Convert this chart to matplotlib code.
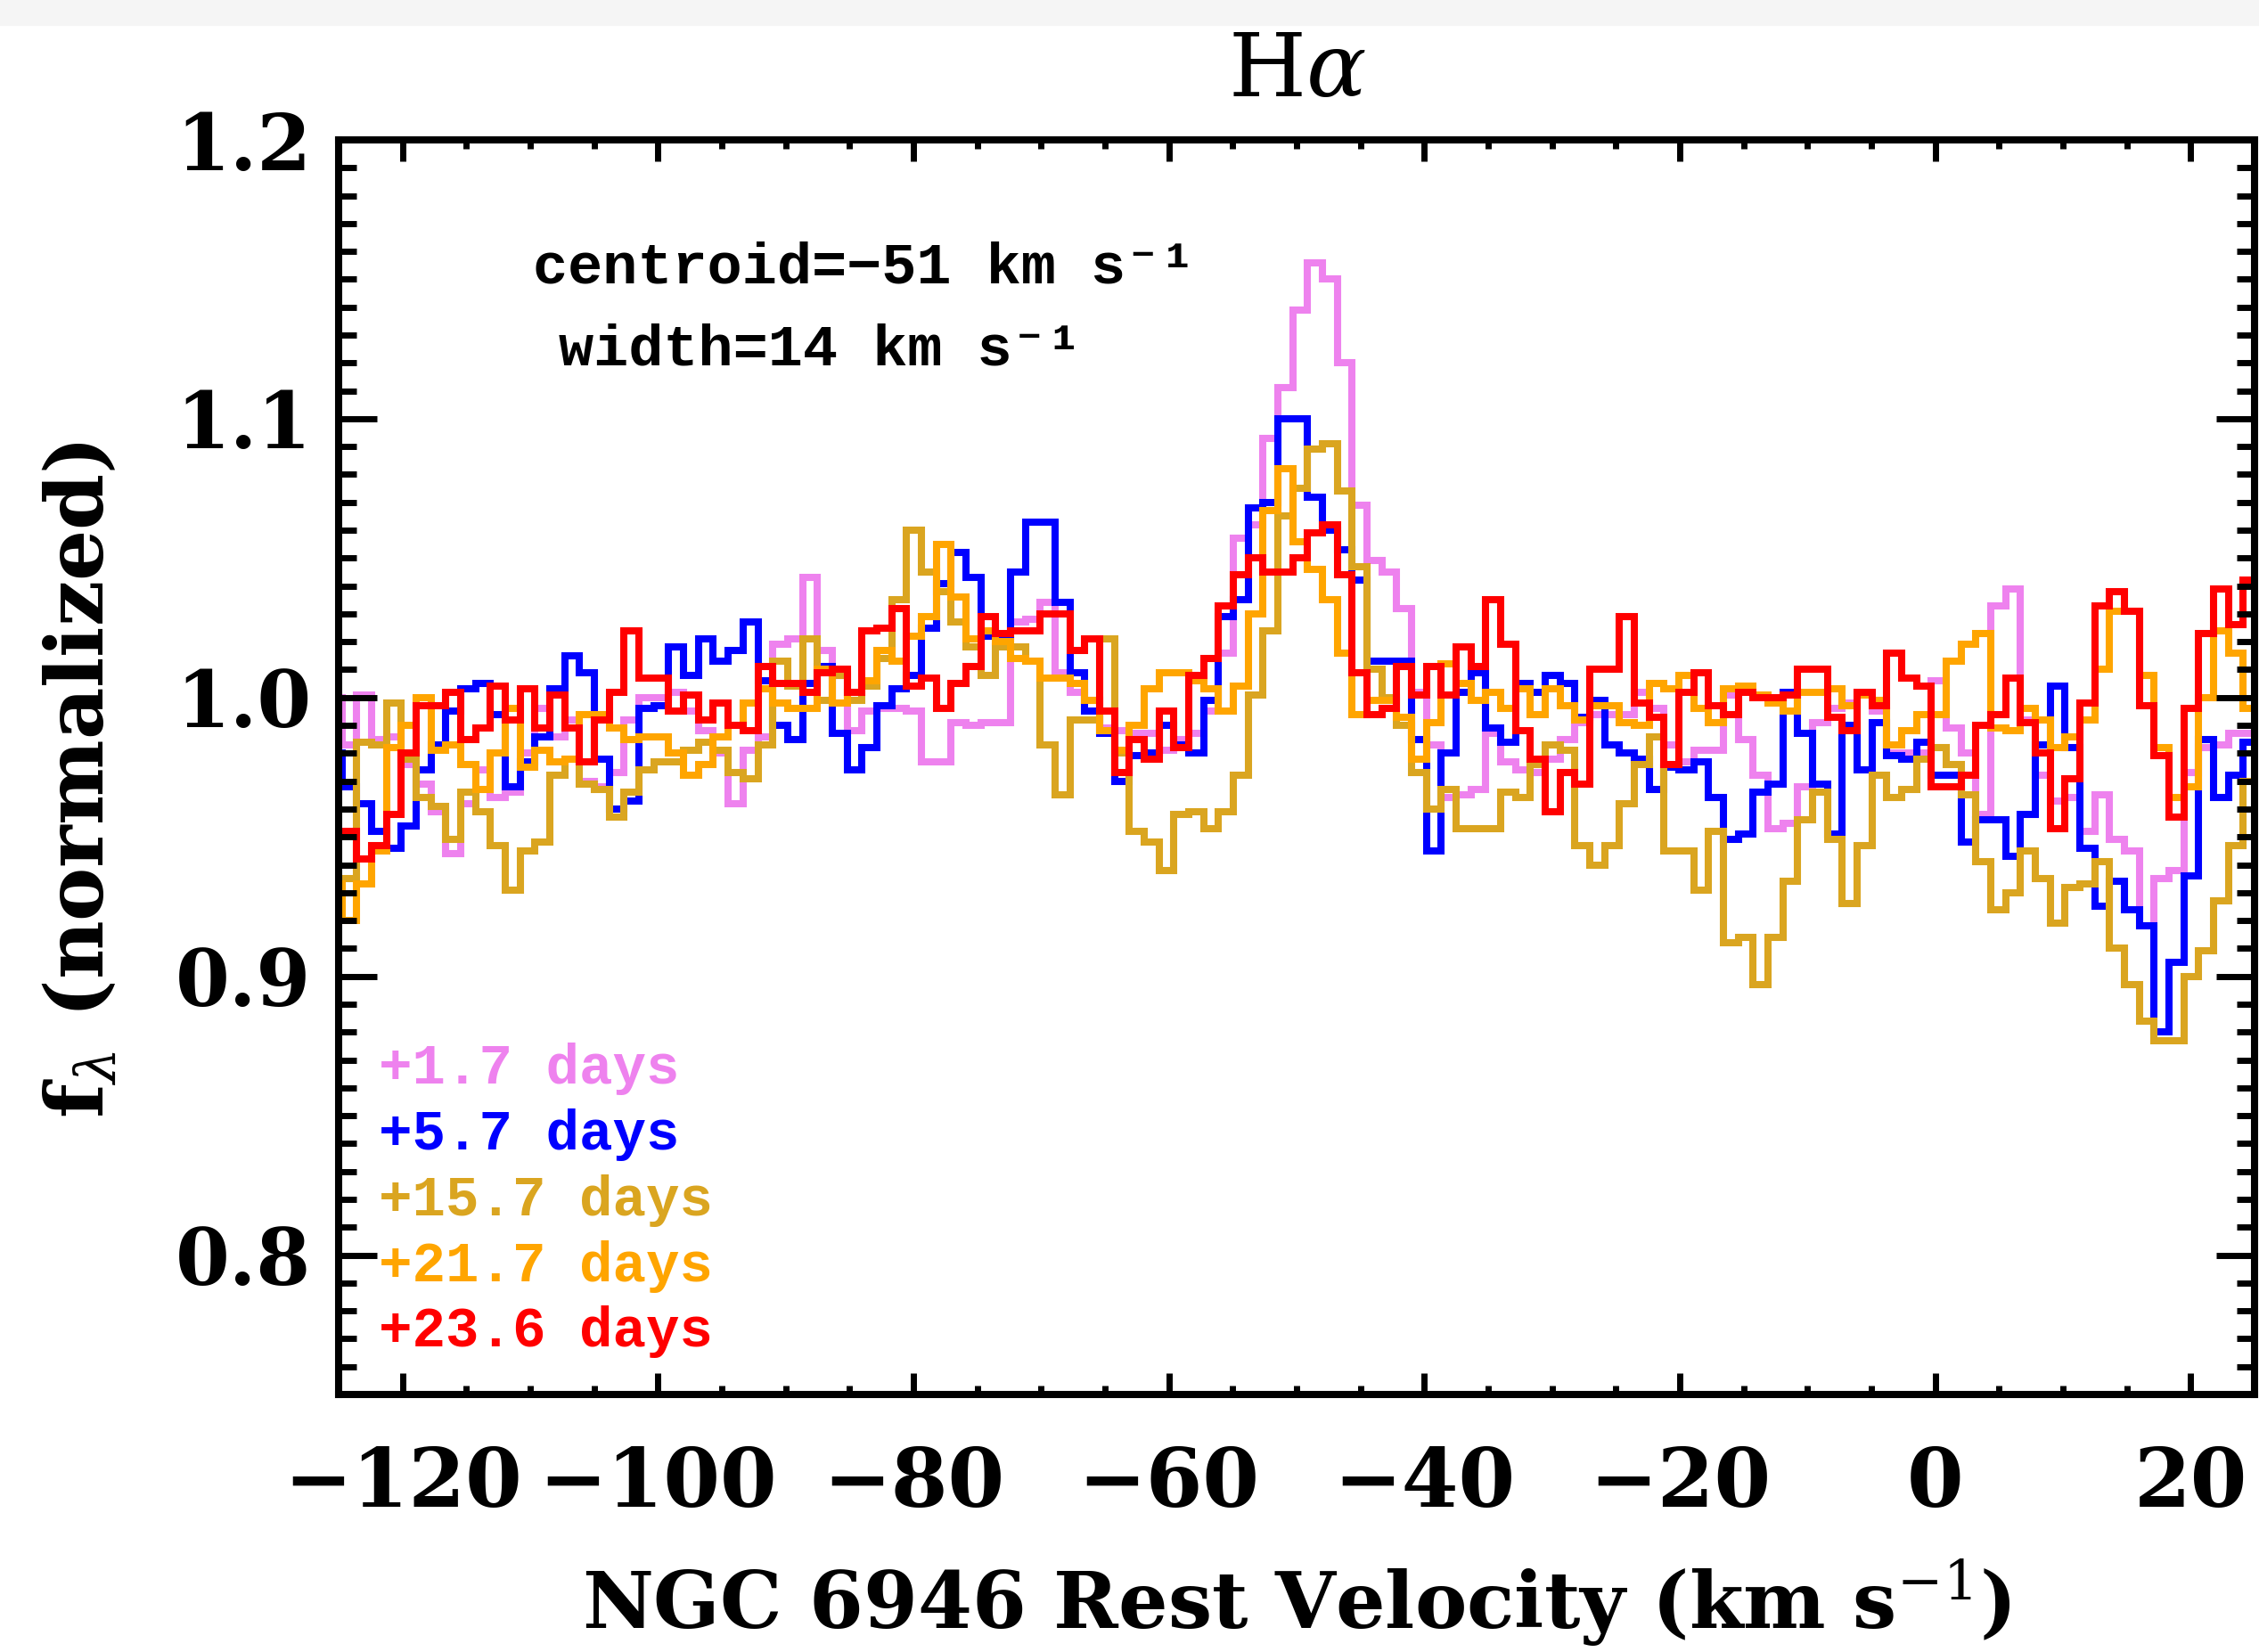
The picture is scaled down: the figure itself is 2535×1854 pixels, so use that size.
import numpy as np
import matplotlib
matplotlib.use("Agg")
import matplotlib.pyplot as plt
from matplotlib.ticker import MultipleLocator, FormatStrFormatter
from matplotlib.patches import Rectangle

# velocity grid of the spectra (km/s): left edge of the first pixel and pixel width
v_start = -125.9
v_step = 1.163

# normalized H-alpha flux per velocity pixel, one list per epoch
flux_1p7 = [
    1.000, 0.983, 1.001, 0.985, 0.986, 0.976, 0.969, 0.959, 0.944, 0.962, 0.974, 0.964, 0.966, 0.980, 0.996, 0.986, 0.992, 0.970, 0.968, 0.973, 0.992, 1.000,
    1.000, 1.002, 0.995, 0.988, 0.980, 0.962, 0.981, 0.986, 1.019, 1.021, 1.043, 1.017, 1.008, 0.988, 0.995, 0.996, 0.996, 0.995, 0.977, 0.977, 0.991, 0.990,
    0.991, 0.991, 1.027, 1.028, 1.034, 1.009, 1.002, 0.999, 0.989, 0.988, 0.987, 0.987, 0.981, 0.985, 0.987, 0.995, 1.016, 1.057, 1.062, 1.093, 1.111,
    1.139, 1.156, 1.150, 1.120, 1.069, 1.049, 1.045, 1.032, 1.002, 0.983, 0.964, 0.965, 0.967, 0.987, 0.977, 0.974, 0.973, 0.978, 0.985, 0.991, 0.994, 0.994,
    0.994, 1.002, 0.996, 0.983, 0.977, 0.981, 0.981, 1.001, 0.985, 0.972, 0.953, 0.955, 0.968, 0.991, 0.996, 0.998, 1.002, 0.995, 0.980, 0.980, 0.980,
    1.006, 0.989, 0.980, 0.958, 1.033, 1.039, 0.992, 0.972, 0.963, 0.964, 0.952, 0.965, 0.949, 0.945, 0.918, 0.935, 0.938, 0.973, 0.982, 0.983, 0.987, 0.987,
]
flux_5p7 = [
    0.980, 0.968, 0.962, 0.952, 0.946, 0.954, 0.974, 0.983, 0.995, 1.003, 1.005, 0.994, 0.968, 0.977, 0.986, 1.003, 1.015, 1.009, 0.978, 0.960, 0.963, 0.996,
    0.997, 1.018, 1.008, 1.021, 1.013, 1.017, 1.027, 1.006, 0.990, 0.985, 1.005, 1.011, 0.987, 0.974, 0.982, 0.997, 1.003, 1.008, 1.025, 1.041, 1.052, 1.043,
    1.022, 1.022, 1.045, 1.063, 1.063, 1.034, 1.009, 0.995, 0.987, 0.970, 0.979, 0.980, 0.990, 0.983, 0.980, 0.999, 1.029, 1.035, 1.068, 1.070, 1.100,
    1.100, 1.072, 1.060, 1.053, 1.042, 1.013, 1.013, 1.013, 0.985, 0.945, 0.980, 1.002, 1.009, 0.989, 0.984, 1.005, 1.002, 1.008, 1.005, 0.993, 0.999, 0.983,
    0.980, 0.978, 0.967, 0.975, 0.974, 0.977, 0.964, 0.949, 0.951, 0.966, 0.969, 1.002, 0.987, 0.969, 0.951, 0.990, 0.974, 0.991, 0.979, 0.978, 0.984,
    0.972, 0.972, 0.948, 0.956, 0.956, 0.943, 0.958, 0.983, 1.004, 0.982, 0.946, 0.925, 0.934, 0.924, 0.918, 0.880, 0.905, 0.936, 0.985, 0.964, 0.972, 0.984,
]
flux_15p7 = [
    0.925, 0.935, 0.984, 0.983, 0.998, 0.978, 0.964, 0.961, 0.949, 0.966, 0.959, 0.947, 0.931, 0.945, 0.948, 0.972, 0.978, 0.969, 0.967, 0.957, 0.966, 0.974,
    0.977, 0.977, 0.981, 0.984, 0.981, 0.973, 0.971, 0.983, 1.013, 1.004, 1.021, 0.999, 1.008, 0.999, 1.004, 1.014, 1.035, 1.060, 1.045, 1.038, 1.027, 1.018,
    1.008, 1.018, 1.018, 1.013, 0.983, 0.965, 0.992, 0.992, 1.021, 0.980, 0.952, 0.948, 0.938, 0.958, 0.959, 0.953, 0.959, 0.972, 1.001, 1.024, 1.065,
    1.075, 1.089, 1.091, 1.074, 1.047, 1.010, 1.000, 0.990, 0.973, 0.960, 0.967, 0.953, 0.953, 0.953, 0.966, 0.964, 0.976, 0.983, 0.981, 0.947, 0.940, 0.947,
    0.962, 0.976, 0.986, 0.945, 0.945, 0.931, 0.952, 0.912, 0.914, 0.897, 0.914, 0.934, 0.956, 0.966, 0.949, 0.926, 0.947, 0.972, 0.964, 0.967, 0.978,
    0.982, 0.976, 0.965, 0.941, 0.924, 0.930, 0.945, 0.935, 0.919, 0.932, 0.933, 0.941, 0.910, 0.897, 0.884, 0.877, 0.877, 0.900, 0.909, 0.927, 0.947, 0.970,
]
flux_21p7 = [
    0.933, 0.920, 0.933, 0.945, 0.982, 0.990, 1.000, 0.981, 0.983, 0.976, 0.967, 0.980, 0.996, 0.975, 0.981, 0.977, 0.978, 0.994, 0.994, 0.989, 0.985, 0.986,
    0.986, 0.980, 0.972, 0.976, 0.986, 0.990, 0.998, 1.003, 0.998, 0.996, 0.996, 1.010, 0.998, 1.002, 1.006, 1.017, 1.013, 1.022, 1.029, 1.055, 1.036, 1.021,
    1.024, 1.020, 1.014, 1.013, 1.007, 1.007, 1.005, 0.999, 0.988, 0.981, 0.990, 1.003, 1.009, 1.009, 1.006, 1.003, 0.995, 1.004, 1.030, 1.067, 1.082,
    1.056, 1.046, 1.035, 1.016, 0.994, 0.999, 0.999, 0.993, 0.978, 0.991, 1.012, 1.005, 0.999, 1.002, 0.996, 1.003, 0.994, 1.003, 0.997, 0.992, 0.997, 0.997,
    0.991, 0.990, 1.005, 1.003, 1.008, 0.996, 0.991, 1.003, 1.004, 1.001, 0.998, 0.995, 1.002, 1.002, 1.003, 0.997, 1.001, 0.999, 0.983, 0.988, 0.994,
    0.994, 1.013, 1.019, 1.023, 0.989, 0.988, 0.996, 0.992, 0.982, 0.986, 0.992, 1.010, 1.031, 1.031, 1.008, 0.982, 0.964, 0.968, 1.000, 1.024, 1.016, 0.996,
]
flux_23p6 = [
    0.952, 0.952, 0.942, 0.947, 0.958, 0.980, 0.997, 0.997, 1.002, 0.985, 0.989, 1.004, 0.992, 1.003, 0.989, 1.001, 0.989, 0.977, 0.992, 1.002, 1.024, 1.007,
    1.007, 0.995, 1.001, 0.992, 0.998, 0.990, 0.988, 1.011, 1.005, 1.005, 1.002, 1.009, 1.010, 1.002, 1.024, 1.025, 1.032, 1.004, 1.007, 0.996, 1.005, 1.011,
    1.029, 1.023, 1.024, 1.024, 1.030, 1.030, 1.017, 1.021, 0.995, 0.973, 0.985, 0.978, 0.995, 0.982, 1.008, 1.014, 1.033, 1.044, 1.050, 1.045, 1.045,
    1.050, 1.059, 1.062, 1.044, 1.009, 0.994, 0.996, 1.011, 1.001, 1.011, 1.001, 1.018, 1.011, 1.035, 1.019, 0.988, 0.978, 0.959, 0.973, 0.969, 1.010, 1.010,
    1.029, 0.998, 0.993, 0.976, 1.002, 1.009, 0.997, 0.994, 1.002, 1.000, 1.000, 1.001, 1.010, 1.010, 0.993, 0.988, 1.002, 0.997, 1.016, 1.007, 1.004,
    0.968, 0.968, 0.972, 0.990, 0.994, 1.007, 0.991, 0.980, 0.953, 0.971, 0.998, 1.033, 1.038, 1.031, 0.997, 0.979, 0.957, 0.996, 1.023, 1.039, 1.026, 1.042,
]

spectra = [flux_1p7, flux_5p7, flux_15p7, flux_21p7, flux_23p6]
labels = ["+1.7 days", "+5.7 days", "+15.7 days", "+21.7 days", "+23.6 days"]
colors = ["violet", "blue", "goldenrod", "orange", "red"]

x_ticks = [-120, -100, -80, -60, -40, -20, 0, 20]
y_ticks = [0.8, 0.9, 1.0, 1.1, 1.2]

plt.rcParams["mathtext.fontset"] = "dejavuserif"
serif = "DejaVu Serif"
mono = ["Liberation Mono", "DejaVu Sans Mono"]

fig = plt.figure(figsize=(25.35, 18.54), dpi=100)
# light strip along the top edge of the original screenshot
fig.add_artist(Rectangle((0, 1 - 28 / 1854), 1, 28 / 1854, transform=fig.transFigure,
                         color="#f5f5f5", zorder=0))
ax = fig.add_axes([0.1499, 0.1559, 0.8481, 0.7594])

for flux, c in zip(spectra, colors):
    edges = v_start + v_step * np.arange(len(flux) + 1)
    ax.stairs(flux, edges, baseline=None, color=c, lw=5.8)

ax.set_xlim(-125, 25)
ax.set_ylim(0.75, 1.2)
ax.set_xticks(x_ticks)
ax.set_yticks(y_ticks)
ax.xaxis.set_minor_locator(MultipleLocator(5))
ax.yaxis.set_minor_locator(MultipleLocator(0.01))
ax.yaxis.set_major_formatter(FormatStrFormatter("%.1f"))

for s in ax.spines.values():
    s.set_linewidth(5.8)
ax.tick_params(axis="both", which="both", direction="in", top=True, right=True, width=5)
ax.tick_params(axis="x", which="major", length=17, pad=40)
ax.tick_params(axis="x", which="minor", length=7.5)
ax.tick_params(axis="y", which="major", length=31, pad=22)
ax.tick_params(axis="y", which="minor", length=14.5)
for lab in ax.get_xticklabels():
    lab.set_fontfamily(serif)
    lab.set_fontweight("bold")
    lab.set_fontsize(66)
for lab in ax.get_yticklabels():
    lab.set_fontfamily(serif)
    lab.set_fontweight("bold")
    lab.set_fontsize(63)

ax.set_xlabel("NGC 6946 Rest Velocity (km s$^{-1}$)", family=serif, weight="bold", fontsize=63)
ax.xaxis.set_label_coords(0.5, -0.13)
ax.set_ylabel(r"f$_{\lambda}$ (normalized)", family=serif, weight="bold", fontsize=65)
ax.yaxis.set_label_coords(-0.114, 0.49)
ax.set_title(r"H$\alpha$", family=serif, fontsize=72, pad=35)

ax.text(0.1014, 0.8857, "centroid=\u221251 km s\u207b\u00b9", transform=ax.transAxes,
        family=mono, weight="bold", fontsize=47, va="baseline")
ax.text(0.1149, 0.821, "width=14 km s\u207b\u00b9", transform=ax.transAxes,
        family=mono, weight="bold", fontsize=47, va="baseline")

for i, (lab, c) in enumerate(zip(labels, colors)):
    ax.text(0.021, 0.248 - 0.0525 * i, lab, color=c, transform=ax.transAxes,
            family=mono, weight="bold", fontsize=45, va="baseline")

fig.savefig("out.png", dpi=100)
